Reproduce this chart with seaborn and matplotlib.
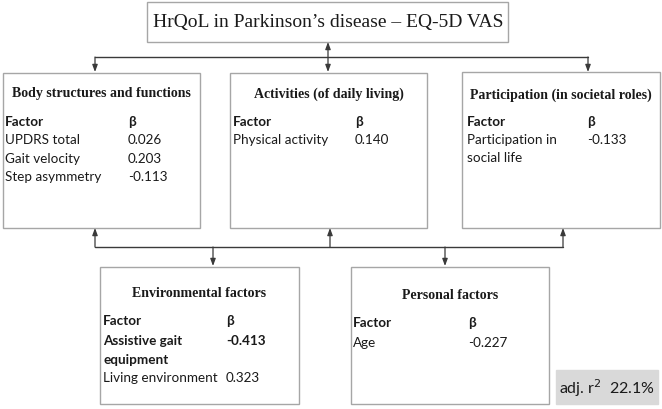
import matplotlib
matplotlib.use("Agg")
import matplotlib.pyplot as plt
from matplotlib.patches import Rectangle
import seaborn as sns

sns.set_theme(style="white")

# ---- data ----
title = "HrQoL in Parkinson\u2019s disease \u2013 EQ-5D VAS"
body_factors = ["UPDRS total", "Gait velocity", "Step asymmetry"]
body_betas = ["0.026", "0.203", "-0.113"]
activity_factors = ["Physical activity"]
activity_betas = ["0.140"]
particip_factors = ["Participation in\nsocial life"]
particip_betas = ["-0.133"]
env_factors = ["Assistive gait\nequipment", "Living environment"]
env_betas = ["-0.413", "0.323"]
env_bold = [True, False]
personal_factors = ["Age"]
personal_betas = ["-0.227"]
adj_r2 = "22.1%"

SERIF = "Liberation Serif"
SANS = "Lato"
EDGE = "#a6a6a6"
LINE = "#3a3a3a"
TXT = "#1a1a1a"
FS = 9.7

fig = plt.figure(figsize=(6.62, 4.10), dpi=100)
ax = fig.add_axes([0, 0, 1, 1])
ax.set_xlim(0, 662)
ax.set_ylim(410, 0)
ax.axis("off")


def box(x0, y0, x1, y1, fc="white", ec=EDGE):
    ax.add_patch(Rectangle((x0, y0), x1 - x0, y1 - y0, fc=fc, ec=ec, lw=1.0, zorder=2))


def arrow(x0, y0, x1, y1, both=False):
    style = "<|-|>" if both else "-|>"
    ax.annotate("", xy=(x1, y1), xytext=(x0, y0),
                arrowprops=dict(arrowstyle=style + ",head_length=0.35,head_width=0.13",
                                color=LINE, lw=0.9, shrinkA=0, shrinkB=0), zorder=3)


def panel(x0, y0, x1, y1, header, hy, fx, bx, fy, factors, betas, gap, bold=None):
    box(x0, y0, x1, y1)
    ax.text((x0 + x1) / 2, hy, header, family=SERIF, fontweight="bold", fontsize=10.0,
            ha="center", va="center", color=TXT, zorder=4)
    ax.text(fx, fy, "Factor", family=SANS, fontweight="bold", fontsize=FS,
            ha="left", va="center", color=TXT, zorder=4)
    ax.text(bx, fy, "\u03b2", family=SANS, fontweight="bold", fontsize=FS,
            ha="left", va="center", color=TXT, zorder=4)
    y = fy + gap
    for i, (f, b) in enumerate(zip(factors, betas)):
        w = "bold" if (bold and bold[i]) else "normal"
        ax.text(bx, y, b, family=SANS, fontweight=w, fontsize=FS,
                ha="left", va="center", color=TXT, zorder=4)
        for line in f.split("\n"):
            ax.text(fx, y, line, family=SANS, fontweight=w, fontsize=FS,
                    ha="left", va="center", color=TXT, zorder=4)
            y += 18.5


# top box
box(147, 3, 508, 43)
ax.text(153, 23, title, family=SERIF, fontsize=14, ha="left", va="center", color=TXT, zorder=4)

# connectors top
arrow(328, 43, 328, 73, both=True)
ax.plot([95, 588], [58, 58], color=LINE, lw=1.0, zorder=1)
for x in (95, 588):
    arrow(x, 58, x, 73)

# upper panels
panel(3, 74, 200, 229, "Body structures and functions", 94, 5, 128, 122.5,
      body_factors, body_betas, 18)
panel(230, 74, 427, 229, "Activities (of daily living)", 94, 233, 355, 122.5,
      activity_factors, activity_betas, 18)
panel(462, 73, 660, 229, "Participation (in societal roles)", 95, 467, 587, 122,
      particip_factors, particip_betas, 18)

# connectors bottom
ax.plot([95, 563], [248, 248], color=LINE, lw=1.0, zorder=1)
for x in (95, 330, 563):
    arrow(x, 248, x, 229)
for x in (213, 445):
    arrow(x, 248, x, 267)

# lower panels
panel(100, 268, 299, 405, "Environmental factors", 294, 103, 226, 321,
      env_factors, env_betas, 20.5, bold=env_bold)
panel(351, 268, 549, 405, "Personal factors", 296, 353, 468, 323,
      personal_factors, personal_betas, 20)

# adj r2 box
box(556, 371, 658, 405, fc="#d9d9d9", ec="#d9d9d9")
ax.text(607, 388, "adj. r$^{2}$  " + adj_r2, family=SANS, fontsize=11.5,
        ha="center", va="center", color=TXT, zorder=4)

fig.savefig("out.png", dpi=100, facecolor="white")
